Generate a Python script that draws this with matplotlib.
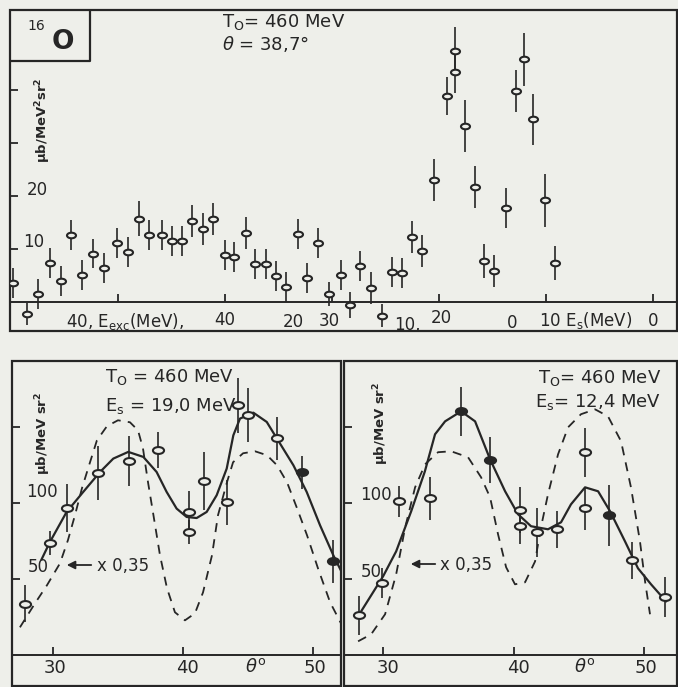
import matplotlib
matplotlib.use("Agg")
import matplotlib.pyplot as plt
from matplotlib.path import Path
from matplotlib.transforms import Affine2D
from matplotlib.patches import Rectangle

ink = '#262626'
paper = '#eeefea'

# top panel: 16O spectrum at theta = 38.7 deg, x = E_s (MeV)
es = [59.8, 58.5, 57.5, 56.4, 55.3, 54.4, 53.4, 52.3, 51.3, 50.1, 49.1, 48.0, 47.1, 45.9,
      45.0, 44.0, 43.1, 42.1, 41.1, 40.0, 39.2, 38.0, 37.2, 36.2, 35.2, 34.3, 33.2, 32.3,
      31.3, 30.3, 29.2, 28.3, 27.4, 26.4, 25.3, 24.4, 23.5, 22.5, 21.6, 20.5, 19.3, 18.5,
      18.5, 17.6, 16.6, 15.8, 14.9, 13.7, 12.8, 12.1, 11.2, 10.1, 9.2]
sig = [3.6, -2.3, 1.5, 7.4, 4.0, 12.6, 5.1, 9.1, 6.4, 11.1, 9.4, 15.7, 12.6, 12.6,
       11.5, 11.5, 15.3, 13.8, 15.7, 8.9, 8.5, 13.0, 7.2, 7.2, 4.9, 2.8, 12.8, 4.5,
       11.1, 1.5, 5.1, -0.6, 6.8, 2.6, -2.6, 5.7, 5.5, 12.3, 9.6, 23.0, 38.9, 43.4,
       47.4, 33.2, 21.7, 7.7, 5.8, 17.7, 39.8, 45.8, 34.5, 19.2, 7.4]
sig_err = [2.8, 2.0, 2.8, 2.8, 2.8, 2.8, 2.8, 2.8, 2.8, 2.8, 2.8, 3.3, 2.8, 2.8,
           2.8, 2.8, 3.0, 3.0, 3.0, 2.8, 2.8, 3.0, 2.8, 2.8, 2.8, 2.8, 2.8, 2.8,
           2.8, 2.2, 2.8, 2.4, 2.8, 3.0, 2.2, 2.8, 2.8, 3.0, 3.0, 4.0, 3.6, 4.0,
           4.5, 5.0, 4.0, 3.2, 3.0, 3.8, 4.0, 5.0, 4.8, 5.0, 3.2]

# bottom left: angular distribution, E_s = 19.0 MeV
th_l = [27.85, 29.77, 31.08, 33.5, 35.85, 38.1, 40.46, 40.46, 41.6, 43.4, 44.2, 45.0,
        47.2, 49.15, 51.54]
v_l = [34, 73.7, 97, 120, 127.6, 135, 94, 81, 114.5, 100.6, 164.5, 158, 142.8, 120.4, 61.8]
e_l = [12, 8, 16, 18, 16.5, 12, 14, 8, 19, 15, 18, 18, 14, 11, 14]
full_l = [False] * 13 + [True, True]
fit_th_l = [29.13, 29.77, 31.05, 32.33, 33.62, 34.64, 35.79, 36.95, 37.97, 38.74, 39.51,
            40.28, 41.05, 41.82, 42.59, 43.36, 43.87, 44.38, 45.41, 46.44, 47.46, 48.49,
            49.51, 50.54, 51.56, 52.2]
fit_v_l = [63.2, 74.6, 94.3, 107.5, 120.6, 129.4, 133.8, 130.5, 120.6, 107.5, 96.5,
           91, 90.3, 94.3, 105.3, 122.8, 144.7, 155.7, 159.6, 153.5, 139.3, 125,
           107.5, 85.5, 65.8, 54.8]
th_th_l = [27.46, 28.62, 29.54, 30.54, 31.15, 31.69, 32.23, 32.85, 33.38, 34.15, 35.0,
           35.92, 36.54, 36.92, 37.31, 37.69, 38.23, 38.77, 39.38, 40.15, 40.92, 41.54,
           42.23, 42.69, 43.38, 43.85, 44.62, 45.54, 46.46, 47.23, 48.0, 48.77, 49.54,
           50.38, 51.31, 52.23]
th_v_l = [18.4, 34.2, 46.1, 60.5, 75.7, 92.1, 109.9, 127, 141.4, 150.7, 154.6,
          153.3, 148, 136.2, 113.8, 94.1, 65.8, 44.1, 28.3, 23.0, 27.6, 41.4,
          65.8, 92.1, 113.8, 127, 132.9, 134.2, 131.6, 125, 113.8, 96.7, 78.9,
          57.2, 34.9, 19.7]

# bottom right: angular distribution, E_s = 12.4 MeV
th_r = [28.16, 29.92, 31.23, 33.6, 35.98, 38.2, 40.5, 40.5, 41.8, 43.33, 45.48, 45.48,
        47.32, 49.08, 51.6]
v_r = [26.3, 47.4, 101.3, 103.3, 160.5, 128.3, 95.4, 84.9, 80.9, 82.9, 133.6, 96.7,
       92.1, 62.5, 38.2]
e_r = [13, 10, 10, 14, 16, 15, 15, 12, 16, 12, 16, 14, 20, 12, 13]
full_r = [False, False, False, False, True, True, False, False, False, False, False,
          False, True, False, False]
fit_th_r = [28.08, 30.0, 31.0, 32.15, 33.2, 33.98, 34.75, 35.98, 37.05, 38.2, 39.35,
            40.34, 41.34, 42.64, 43.64, 44.4, 45.48, 46.48, 47.4, 48.54, 49.54, 50.54, 51.69]
fit_v_r = [25.7, 52, 68.4, 94.7, 121, 145.4, 153.9, 160.5, 153.9, 128.9, 107.9,
           92.8, 84.9, 82.9, 87.5, 99.3, 110.5, 107.9, 94.7, 75, 57.2, 46.7, 35.5]
th_th_r = [28.08, 29.08, 30.15, 31.0, 31.69, 32.45, 33.22, 34.21, 35.21, 36.51, 37.51,
           38.2, 38.81, 39.43, 40.11, 40.88, 41.65, 42.1, 42.64, 43.41, 44.18, 45.17,
           46.25, 47.24, 48.24, 49.0, 49.69, 50.08, 50.46]
th_v_r = [9.2, 13.8, 27, 53.3, 84.2, 110.5, 125.7, 133.6, 134.2, 130.3, 117.1,
          103.9, 79.6, 57.9, 46.7, 48, 61.8, 84.2, 105.9, 132.2, 150, 158.6,
          161.8, 157.2, 140.8, 110.5, 75, 48.7, 27]

W, H = 678, 687
fig = plt.figure(figsize=(W / 100, H / 100), dpi=100, facecolor=paper)
plt.rcParams['font.family'] = ['DejaVu Sans']

ell = Path.unit_circle().transformed(Affine2D().scale(1.0, 0.62))


def fx(x, y):
    return x / W, 1 - y / H


def ftext(x, y, s, **kw):
    kw.setdefault('color', ink)
    kw.setdefault('va', 'center')
    fig.text(x / W, 1 - y / H, s, **kw)


def make_ax(x0, y0, x1, y1):
    ax = fig.add_axes([x0 / W, 1 - y1 / H, (x1 - x0) / W, (y1 - y0) / H])
    ax.set_facecolor('none')
    for s in ['top', 'right']:
        ax.spines[s].set_visible(False)
    ax.spines['bottom'].set_position(('data', 0))
    for s in ['left', 'bottom']:
        ax.spines[s].set_color(ink)
        ax.spines[s].set_linewidth(1.4)
    ax.add_patch(Rectangle((0, 0), 1, 1, transform=ax.transAxes, fill=False,
                           ec=ink, lw=1.6, clip_on=False))
    ax.tick_params(direction='in', length=6, width=1.3, color=ink,
                   labelbottom=False, labelleft=False)
    return ax


def points(ax, x, y, err, filled=None, ms=6.5):
    ax.errorbar(x, y, yerr=err, fmt='none', ecolor=ink, elinewidth=1.2, capsize=0)
    if filled is None:
        filled = [False] * len(x)
    for xi, yi, f in zip(x, y, filled):
        ax.plot(xi, yi, marker=ell, ms=ms, mew=1.5, mec=ink,
                mfc=ink if f else paper, ls='none', zorder=5)


# ---- top panel
ax = make_ax(10, 10, 677, 331)
ax.set_xlim(60.1, -2.24)
ax.set_ylim(-5.5, 55.1)
ax.set_xticks([50, 40, 30, 20, 10, 0])
ax.set_yticks([10, 20, 30, 40])
points(ax, es, sig, sig_err, ms=6.5)
ax.plot([0, 0.12, 0.12], [0.841, 0.841, 1.0], transform=ax.transAxes, color=ink, lw=1.6)

ftext(27, 26, '16', fontsize=10, ha='left')
ftext(52, 42, 'O', fontsize=19, ha='left', fontweight='bold')
ftext(222, 22, 'T$_\\mathregular{O}$= 460 MeV', fontsize=13, ha='left')
ftext(222, 44, '$\\theta$ = 38,7°', fontsize=13, ha='left')
ftext(43, 120, 'μb/MeV$^\\mathregular{2}$sr$^\\mathregular{2}$', fontsize=9.5,
      rotation=90, ha='center', fontweight='bold')
ftext(37, 190, '20', fontsize=12, ha='center')
ftext(34, 242, '10', fontsize=12, ha='center')
ftext(66, 322, '40, E$_\\mathregular{exc}$(MeV),', fontsize=12, ha='left')
ftext(225, 320, '40', fontsize=12, ha='center')
ftext(293, 322, '20', fontsize=12, ha='center')
ftext(329, 321, '30', fontsize=12, ha='center')
ftext(407, 325, '10,', fontsize=12, ha='center')
ftext(441, 318, '20', fontsize=12, ha='center')
ftext(512, 323, '0', fontsize=12, ha='center')
ftext(539, 320, '10 E$_\\mathregular{s}$(MeV)', fontsize=12, ha='left')
ftext(653, 321, '0', fontsize=12, ha='center')

# ---- bottom panels
panels = [
    (12, 341, 26.85, 52.15, th_l, v_l, e_l, full_l, fit_th_l, fit_v_l, th_th_l, th_v_l),
    (344, 677, 27.0, 52.53, th_r, v_r, e_r, full_r, fit_th_r, fit_v_r, th_th_r, th_v_r),
]
for (x0, x1, tl, tr, th, v, e, full, fth, fv, tth, tv) in panels:
    ax = make_ax(x0, 361, x1, 686)
    ax.set_xlim(tl, tr)
    ax.set_ylim(-20.2, 193.6)
    ax.set_xticks([30, 40, 50])
    ax.set_yticks([50, 100, 150])
    ax.plot(fth, fv, color=ink, lw=1.6, zorder=3, solid_joinstyle='round')
    ax.plot(tth, tv, color=ink, lw=1.3, ls=(0, (5, 4)), zorder=3)
    points(ax, th, v, e, full, ms=8)

# left panel texts
ftext(105, 377, 'T$_\\mathregular{O}$ = 460 MeV', fontsize=13, ha='left')
ftext(105, 406, 'E$_\\mathregular{s}$ = 19,0 MeV', fontsize=13, ha='left')
ftext(43, 433, 'μb/MeV sr$^\\mathregular{2}$', fontsize=9.5, rotation=90,
      ha='center', fontweight='bold')
ftext(42, 492, '100', fontsize=12, ha='center')
ftext(38, 567, '50', fontsize=12, ha='center')
ftext(55, 668, '30', fontsize=13, ha='center')
ftext(187, 668, '40', fontsize=13, ha='center')
ftext(256, 667, '$\\theta^\\mathregular{o}$', fontsize=13, ha='center')
ftext(315, 668, '50', fontsize=13, ha='center')
ftext(97, 566, 'x 0,35', fontsize=12, ha='left')
fig.add_artist(matplotlib.patches.FancyArrowPatch(
    fx(94, 565), fx(64, 565), transform=fig.transFigure, arrowstyle='-|>',
    mutation_scale=12, color=ink, lw=1.3))

# right panel texts
ftext(661, 378, 'T$_\\mathregular{O}$= 460 MeV', fontsize=13, ha='right')
ftext(661, 402, 'E$_\\mathregular{s}$= 12,4 MeV', fontsize=13, ha='right')
ftext(381, 423, 'μb/MeV sr$^\\mathregular{2}$', fontsize=9.5, rotation=90,
      ha='center', fontweight='bold')
ftext(376, 495, '100', fontsize=12, ha='center')
ftext(371, 572, '50', fontsize=12, ha='center')
ftext(388, 668, '30', fontsize=13, ha='center')
ftext(518, 668, '40', fontsize=13, ha='center')
ftext(585, 667, '$\\theta^\\mathregular{o}$', fontsize=13, ha='center')
ftext(646, 668, '50', fontsize=13, ha='center')
ftext(440, 565, 'x 0,35', fontsize=12, ha='left')
fig.add_artist(matplotlib.patches.FancyArrowPatch(
    fx(438, 564), fx(408, 564), transform=fig.transFigure, arrowstyle='-|>',
    mutation_scale=12, color=ink, lw=1.3))

fig.savefig('out.png', dpi=100, facecolor=paper)
